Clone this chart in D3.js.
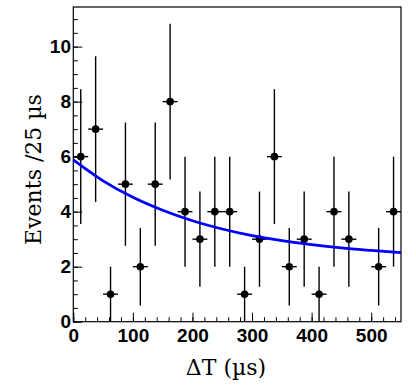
<!DOCTYPE html>
<html>
<head>
<meta charset="utf-8">
<script src="https://cdn.jsdelivr.net/npm/d3@7"></script>
<style>
  html, body { margin: 0; padding: 0; background: #fff; }
  #chart { width: 416px; height: 391px; }
  .tick text { font-family: "Liberation Sans", Arial, sans-serif; font-weight: bold; font-size: 19px; fill: #000; }
  .title { font-family: "DejaVu Serif", serif; font-size: 22px; fill: #000; }
</style>
</head>
<body>
<div id="chart"></div>
<script>
// ========= DATA =========
// centros de bin (25 µs) y cuentas
const BIN_CENTERS = [12.5, 37.5, 62.5, 87.5, 112.5, 137.5, 162.5, 187.5, 212.5, 237.5, 262.5,
                     287.5, 312.5, 337.5, 362.5, 387.5, 412.5, 437.5, 462.5, 487.5, 512.5, 537.5];
const COUNTS      = [6, 7, 1, 5, 2, 5, 8, 4, 3, 4, 4, 1, 3, 6, 2, 3, 1, 4, 3, 0, 2, 4];
const ERRORS      = [2.45, 2.65, 1, 2.24, 1.41, 2.24, 2.83, 2, 1.73, 2, 2, 1, 1.73, 2.45, 1.41, 1.73, 1, 2, 1.73, 0, 1.41, 2];
const BIN_HALF    = 12.5;

// curva de ajuste
const FIT_X = [0, 50, 100, 150, 200, 250, 300, 350, 400, 450, 500, 550];
const FIT_Y = [5.88, 5.12, 4.52, 4.05, 3.67, 3.37, 3.13, 2.95, 2.80, 2.68, 2.59, 2.51];

const X_TICKS = [0, 100, 200, 300, 400, 500];
const Y_TICKS = [0, 2, 4, 6, 8, 10];

const X_TITLE = "ΔT (µs)";
const Y_TITLE = "Events /25 µs";

// ========= LAYOUT =========
const W = 416, H = 391;
const M = { left: 73.3, right: 401, top: 7, bottom: 321.7 };

const svg = d3.select("#chart").append("svg")
  .attr("width", W).attr("height", H);

const x = d3.scaleLinear().domain([0, 550]).range([M.left, M.right]);
const y = d3.scaleLinear().domain([0, 11.44]).range([M.bottom, M.top]);

// ticks menores
svg.append("g")
  .attr("transform", `translate(0,${M.bottom})`)
  .call(d3.axisBottom(x).tickValues(d3.range(0, 551, 20)).tickSize(-4.5).tickFormat(""))
  .call(g => g.select(".domain").remove());
svg.append("g")
  .attr("transform", `translate(${M.left},0)`)
  .call(d3.axisLeft(y).tickValues(d3.range(0, 11.44, 0.5)).tickSize(-4.5).tickFormat(""))
  .call(g => g.select(".domain").remove());

// ticks mayores con etiquetas
svg.append("g")
  .attr("transform", `translate(0,${M.bottom})`)
  .call(d3.axisBottom(x).tickValues(X_TICKS).tickSize(-9).tickPadding(7).tickFormat(d3.format("d")))
  .call(g => g.select(".domain").remove())
  .call(g => g.selectAll("text").attr("font-family", null).attr("font-size", null));
svg.append("g")
  .attr("transform", `translate(${M.left},0)`)
  .call(d3.axisLeft(y).tickValues(Y_TICKS).tickSize(-9).tickPadding(2.3).tickFormat(d3.format("d")))
  .call(g => g.select(".domain").remove())
  .call(g => g.selectAll("text").attr("font-family", null).attr("font-size", null));

svg.selectAll(".tick line").attr("stroke", "#000").attr("stroke-width", 1);

// marco
svg.append("rect")
  .attr("x", M.left).attr("y", M.top)
  .attr("width", M.right - M.left).attr("height", M.bottom - M.top)
  .attr("fill", "none").attr("stroke", "#000").attr("stroke-width", 1.2);

// datos (ROOT no dibuja bins vacíos)
const pts = BIN_CENTERS.map((c, i) => ({ x: c, v: COUNTS[i], e: ERRORS[i] })).filter(d => d.v > 0);

const pg = svg.append("g");
pg.selectAll("line.ev").data(pts).enter().append("line")
  .attr("x1", d => x(d.x)).attr("x2", d => x(d.x))
  .attr("y1", d => y(d.v - d.e)).attr("y2", d => y(d.v + d.e))
  .attr("stroke", "#000").attr("stroke-width", 1.4);
pg.selectAll("line.eh").data(pts).enter().append("line")
  .attr("x1", d => x(d.x - BIN_HALF)).attr("x2", d => x(d.x + BIN_HALF))
  .attr("y1", d => y(d.v)).attr("y2", d => y(d.v))
  .attr("stroke", "#000").attr("stroke-width", 1.4);
pg.selectAll("circle").data(pts).enter().append("circle")
  .attr("cx", d => x(d.x)).attr("cy", d => y(d.v)).attr("r", 3.8)
  .attr("fill", "#000");

// ajuste
const line = d3.line().x(d => x(d[0])).y(d => y(d[1])).curve(d3.curveMonotoneX);
svg.append("path")
  .datum(FIT_X.map((v, i) => [v, FIT_Y[i]]))
  .attr("d", line)
  .attr("fill", "none").attr("stroke", "#0000ff").attr("stroke-width", 2.8);

// títulos
svg.append("text").attr("class", "title")
  .attr("x", 226).attr("y", 375)
  .attr("text-anchor", "middle")
  .text(X_TITLE);
svg.append("text").attr("class", "title")
  .attr("transform", "translate(40.5,169.5) rotate(-90)")
  .attr("text-anchor", "middle")
  .text(Y_TITLE);
</script>
</body>
</html>
